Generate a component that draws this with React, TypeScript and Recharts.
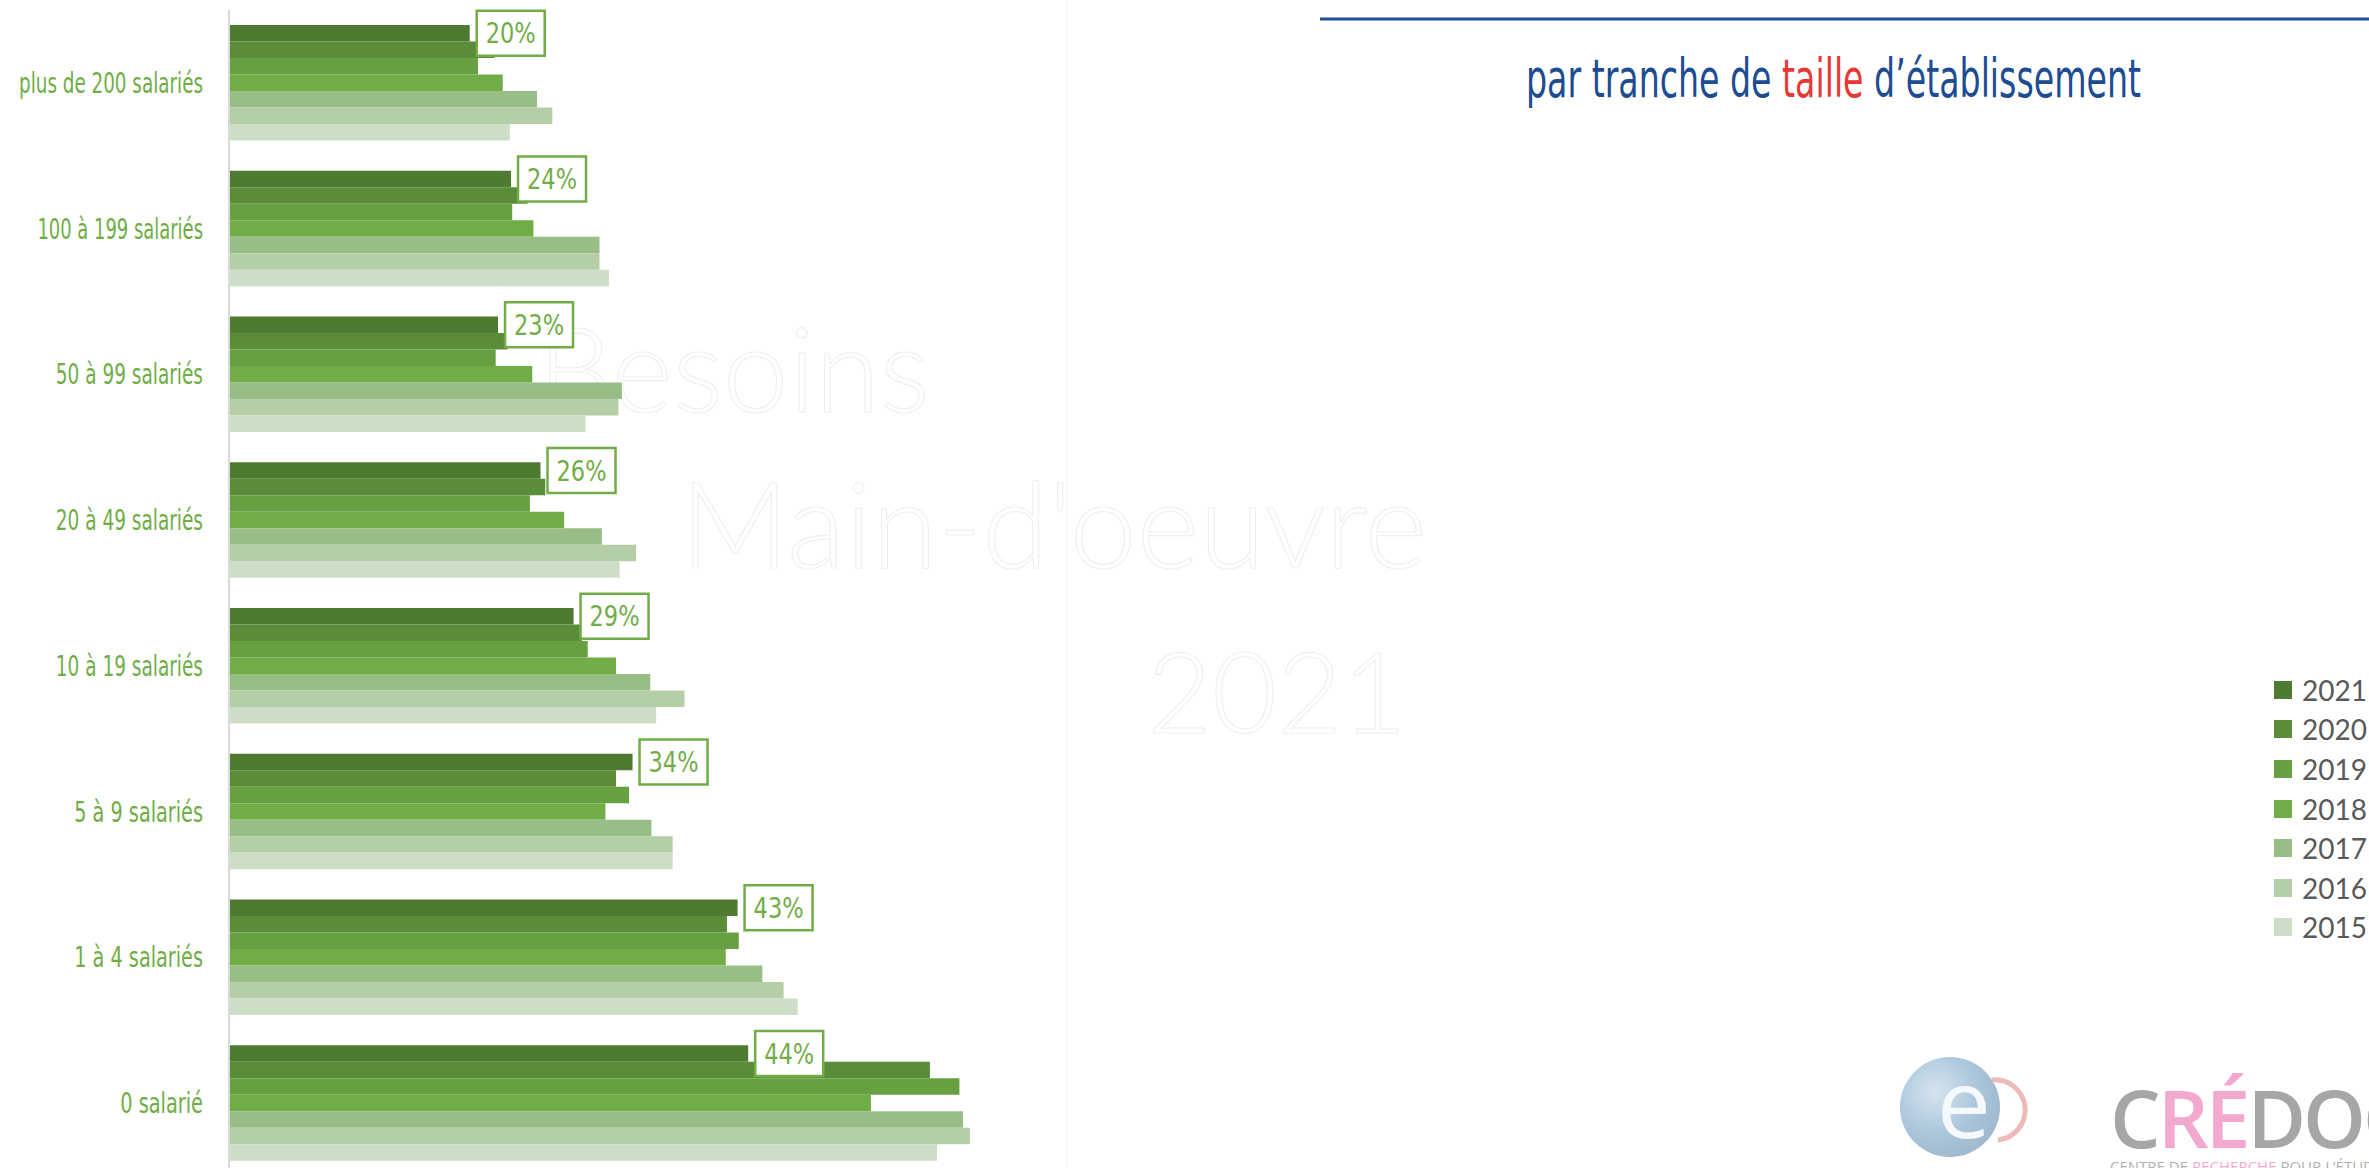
import React from 'react';
import { BarChart, Bar, XAxis, YAxis, Legend, LabelList } from 'recharts';

const categories = [
  'plus de 200 salariés',
  '100 à 199 salariés',
  '50 à 99 salariés',
  '20 à 49 salariés',
  '10 à 19 salariés',
  '5 à 9 salariés',
  '1 à 4 salariés',
  '0 salarié',
];

const years = ['2021', '2020', '2019', '2018', '2017', '2016', '2015'];
const colors = ['#4E7A31', '#5A8C39', '#67A040', '#70AD47', '#98BE86', '#B4CEA8', '#CCDEC6'];

// share of establishments (%)
const values2021 = [20.4, 23.9, 22.8, 26.4, 29.2, 34.2, 43.1, 44.0];
const values2020 = [22.5, 25.3, 23.6, 26.8, 29.9, 32.8, 42.2, 59.4];
const values2019 = [21.1, 24.0, 22.6, 25.5, 30.4, 33.9, 43.2, 61.9];
const values2018 = [23.2, 25.8, 25.7, 28.4, 32.8, 31.9, 42.1, 54.4];
const values2017 = [26.1, 31.4, 33.3, 31.6, 35.7, 35.8, 45.2, 62.2];
const values2016 = [27.4, 31.4, 33.0, 34.5, 38.6, 37.6, 47.0, 62.8];
const values2015 = [23.8, 32.2, 30.2, 33.1, 36.2, 37.6, 48.2, 60.0];

const seriesValues = [values2021, values2020, values2019, values2018, values2017, values2016, values2015];

const data = categories.map((category, i) => {
  const row: Record<string, string | number> = { category };
  years.forEach((year, s) => {
    row[year] = seriesValues[s][i];
  });
  return row;
});

const GREEN = '#70AD47';
const NARROW = "'Liberation Sans Narrow', 'DejaVu Sans Condensed', sans-serif";

const CategoryTick = (props: any) => {
  const { x, y, payload } = props;
  const label = String(payload.value);
  return (
    <text
      x={x}
      y={y}
      dy={10}
      textAnchor="end"
      fill={GREEN}
      fontFamily={NARROW}
      fontSize={28}
      textLength={label.length * 9.2}
      lengthAdjust="spacingAndGlyphs"
    >
      {label}
    </text>
  );
};

const BoxLabel = (props: any) => {
  const vb = props.viewBox ?? props;
  const { x, y, width, height } = vb;
  const bx = x + width + 7;
  const cy = y + height / 2;
  return (
    <g>
      <rect x={bx} y={cy - 22.5} width={68} height={45} fill="#fff" stroke={GREEN} strokeWidth={2.5} />
      <text
        x={bx + 34}
        y={cy + 10}
        textAnchor="middle"
        fill={GREEN}
        fontFamily={NARROW}
        fontSize={28}
        textLength={50}
        lengthAdjust="spacingAndGlyphs"
      >
        {`${Math.round(Number(props.value))}%`}
      </text>
    </g>
  );
};

const renderLegend = (props: any) => {
  const payload = props.payload || [];
  const items = years.map((y) => payload.find((p: any) => String(p.value) === y)).filter(Boolean);
  return (
    <div>
      {items.map((p: any) => (
        <div key={p.value} style={{ display: 'flex', alignItems: 'center', height: 39.6 }}>
          <span style={{ display: 'inline-block', width: 18, height: 18, background: p.color, marginRight: 10 }} />
          <span style={{ fontFamily: 'Lato, sans-serif', fontSize: 28, color: '#595959', lineHeight: '28px' }}>
            {p.value}
          </span>
        </div>
      ))}
    </div>
  );
};

const Watermark = () => (
  <svg width={2369} height={1168} style={{ position: 'absolute', left: 0, top: 0 }}>
    <g fill="none" stroke="#F0F0F0" strokeWidth={1.2} fontFamily="Lato, 'Open Sans', sans-serif" fontWeight={300}>
      <text x={930} y={412} fontSize={118} textAnchor="end">Besoins</text>
      <text x={1427} y={568} fontSize={120} textAnchor="end">Main-d'oeuvre</text>
      <text x={1277} y={733} fontSize={112} textAnchor="middle">2021</text>
    </g>
    <line x1={1067} y1={0} x2={1067} y2={1168} stroke="#F4F4F4" strokeWidth={1} />
  </svg>
);

const Decorations = () => (
  <svg width={2369} height={1168} style={{ position: 'absolute', left: 0, top: 0, pointerEvents: 'none' }}>
    <line x1={1320} y1={19} x2={2369} y2={19} stroke="#24509A" strokeWidth={3} />
    <text
      x={1526}
      y={97}
      fontFamily={NARROW}
      fontSize={54}
      fill="#1D4C92"
      textLength={615}
      lengthAdjust="spacingAndGlyphs"
    >
      par tranche de <tspan fill="#E53935">taille</tspan> d’établissement
    </text>
    <defs>
      <radialGradient id="ball" cx="35%" cy="35%" r="70%">
        <stop offset="0%" stopColor="#C9DCEA" />
        <stop offset="60%" stopColor="#8FB4D0" />
        <stop offset="100%" stopColor="#7FA2BE" />
      </radialGradient>
    </defs>
    <g opacity={0.75}>
      <circle cx={1950} cy={1107} r={50} fill="url(#ball)" />
      <path d="M1992 1080 A30 30 0 0 1 1998 1140" fill="none" stroke="#E8A3A3" strokeWidth={5} />
      <text x={1964} y={1138} fontFamily="'Open Sans', sans-serif" fontSize={96} fill="#F4F8FB" textAnchor="middle">e</text>
    </g>
    <text x={2110} y={1148} fontFamily="'Open Sans', sans-serif" fontSize={80} fontWeight={600} fill="#A6A6A6" letterSpacing={-3}>
      C<tspan fill="#F3A9CF">RÉ</tspan>DOC
    </text>
    <text x={2110} y={1172} fontFamily="'Open Sans', sans-serif" fontSize={15} fill="#B0B0B0">
      CENTRE DE <tspan fill="#F3A9CF">RECHERCHE</tspan> POUR L’ÉTUDE ET L’OBSERVATION
    </text>
  </svg>
);

export default function App() {
  return (
    <div style={{ position: 'absolute', left: 0, top: 0, width: 2369, height: 1168, overflow: 'hidden', background: '#fff' }}>
      <Watermark />
      <div style={{ position: 'absolute', left: 0, top: 0 }}>
        <BarChart
          layout="vertical"
          width={2369}
          height={1180}
          data={data}
          margin={{ top: 10, right: 1314, bottom: 4, left: 0 }}
          barGap={0}
        >
          <XAxis type="number" domain={[0, 70]} hide />
          <YAxis
            type="category"
            dataKey="category"
            width={229}
            axisLine={{ stroke: '#D9D9D9', strokeWidth: 2 }}
            tickLine={false}
            tickSize={0}
            tickMargin={26}
            interval={0}
            tick={<CategoryTick />}
          />
          <Legend
            layout="vertical"
            align="center"
            verticalAlign="middle"
            content={renderLegend}
            wrapperStyle={{ left: 2274, top: 670, width: 95 }}
          />
          {years.map((year, i) => (
            <Bar key={year} dataKey={year} name={year} fill={colors[i]} barSize={16.5} isAnimationActive={false}>
              {year === '2021' ? <LabelList dataKey={year} content={<BoxLabel />} /> : null}
            </Bar>
          ))}
        </BarChart>
      </div>
      <Decorations />
    </div>
  );
}
